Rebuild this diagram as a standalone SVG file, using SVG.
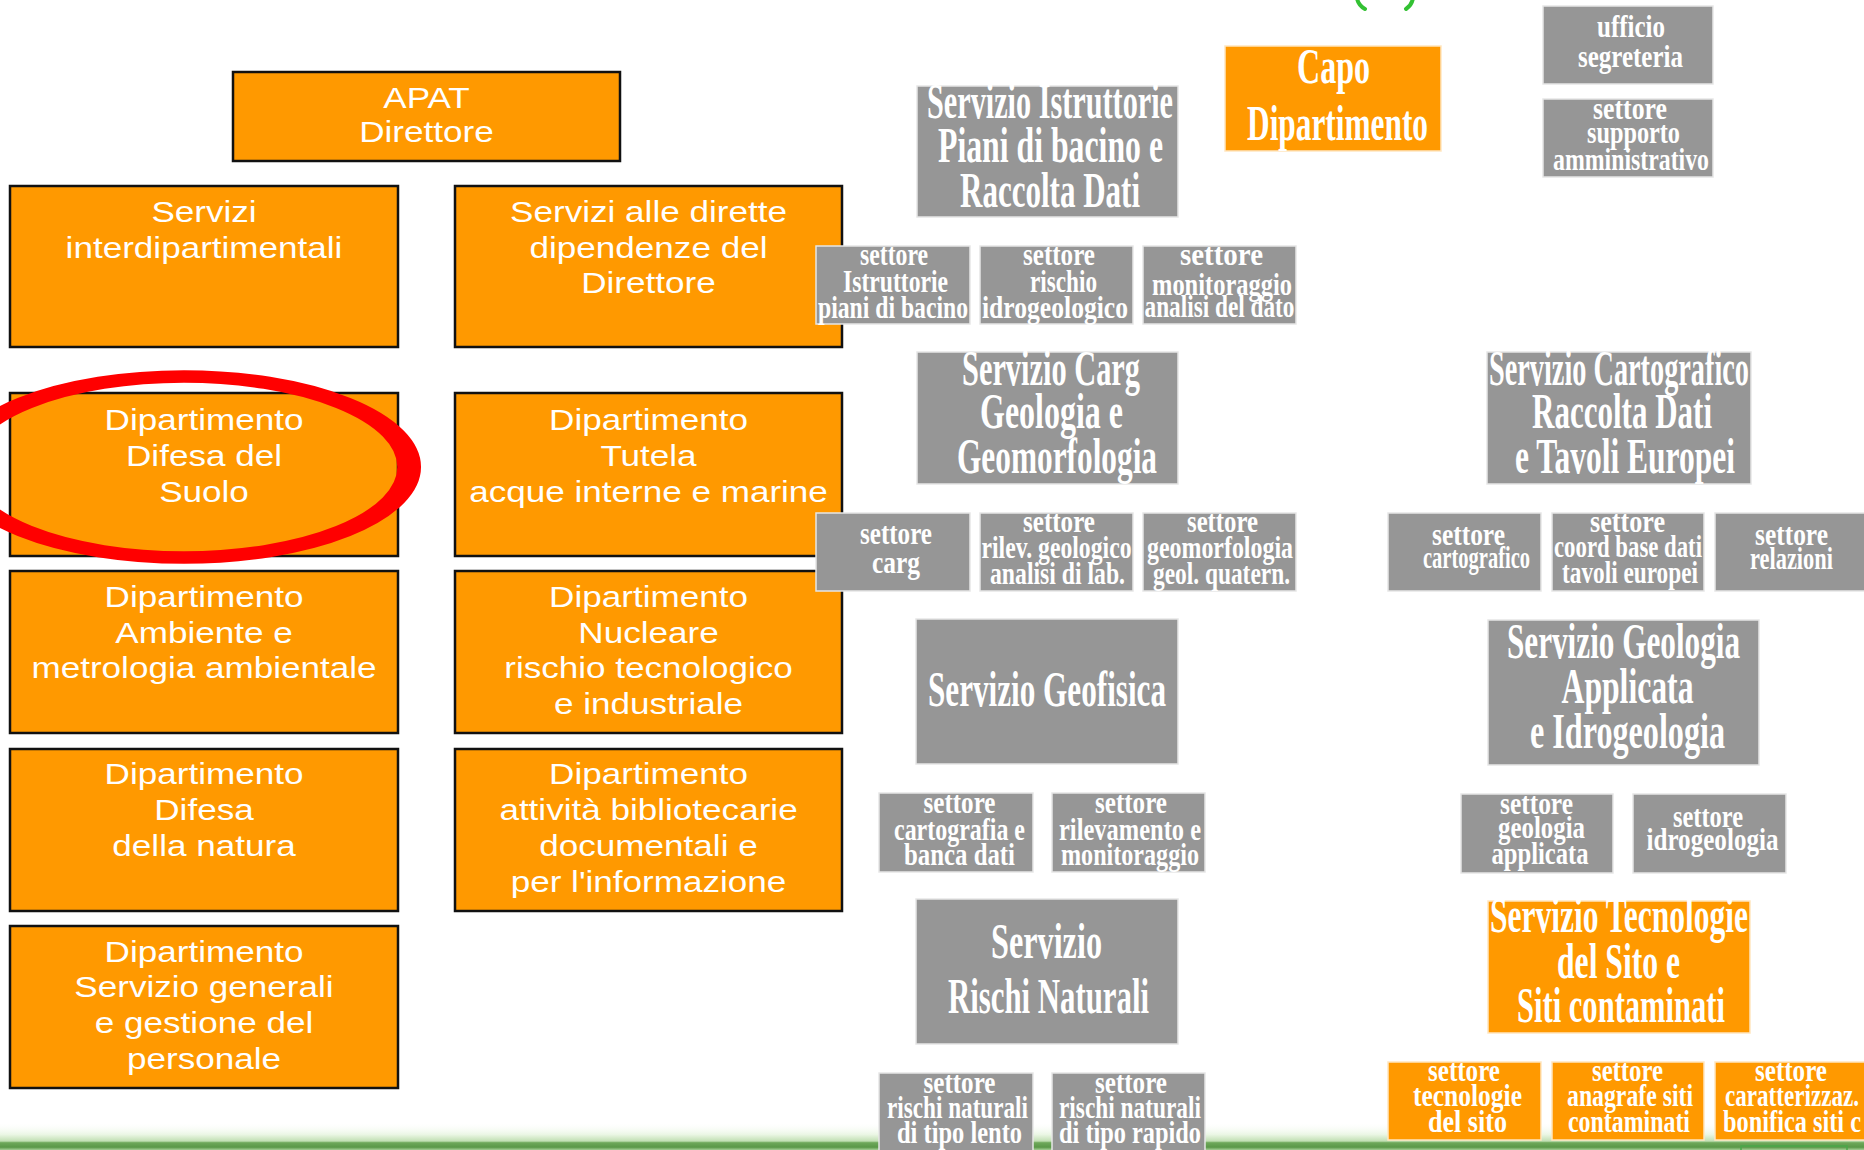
<svg xmlns="http://www.w3.org/2000/svg" width="1864" height="1150" viewBox="0 0 1864 1150">
  <defs>
    <linearGradient id="groundBand" x1="0" y1="0" x2="0" y2="1">
      <stop offset="0" stop-color="#ffffff" stop-opacity="0"/>
      <stop offset="0.45" stop-color="#eaf6e4"/>
      <stop offset="0.68" stop-color="#c2e0b4"/>
      <stop offset="0.74" stop-color="#6ea85a"/>
      <stop offset="0.9" stop-color="#5a9848"/>
      <stop offset="1" stop-color="#a6cf96"/>
    </linearGradient>
  </defs>
  <style>
    .dept { fill: #FF9900; stroke: #111111; stroke-width: 2.5; }
    .lbl { font-family: "Liberation Sans", Arial, sans-serif; font-size: 29px; fill: #ffffff; text-anchor: middle; }
    .svc { fill: #969696; stroke: #e6e6e6; stroke-width: 1.5; }
    .svc-o { fill: #FF9900; stroke: #ffe6c0; stroke-width: 1.5; }
    .big, .small { font-family: "Liberation Serif", "Times New Roman", serif; font-weight: bold; fill: #ffffff; text-anchor: middle; }
    .big { font-size: 50px; }
    .small { font-size: 32px; }
    .capo { font-size: 51px; }
  </style>

  <rect width="1864" height="1150" fill="#ffffff"/>

  <!-- footer band -->
  <g id="footer">
    <rect x="0" y="1122" width="1864" height="28" fill="url(#groundBand)"/>
    <rect x="1741" y="1146" width="106" height="8" fill="none" stroke="#4aa84a" stroke-width="1.5"/>
  </g>

  <!-- green marks at top edge -->
  <g id="top-mark" fill="none" stroke="#33c133" stroke-width="4" stroke-linecap="round">
    <path d="M1357,-2 Q1358,5 1365,9"/>
    <path d="M1413,-2 Q1412,5 1406,9"/>
  </g>

  <g id="connectors"/>

  <!-- ===== agency structure (left) ===== -->
  <g id="n-apat">
    <rect class="dept" x="233" y="72" width="387" height="89"/>
    <g transform="translate(426.5 0) scale(1.21 1)">
      <text class="lbl" y="108">APAT</text>
      <text class="lbl" y="142">Direttore</text>
    </g>
  </g>

  <g id="n-interdip">
    <rect class="dept" x="10" y="186" width="388" height="161"/>
    <g transform="translate(204 0) scale(1.21 1)">
      <text class="lbl" y="222">Servizi</text>
      <text class="lbl" y="258">interdipartimentali</text>
    </g>
  </g>

  <g id="n-dirette">
    <rect class="dept" x="455" y="186" width="387" height="161"/>
    <g transform="translate(648.5 0) scale(1.21 1)">
      <text class="lbl" y="222">Servizi alle dirette</text>
      <text class="lbl" y="258">dipendenze del</text>
      <text class="lbl" y="293">Direttore</text>
    </g>
  </g>

  <g id="n-suolo">
    <rect class="dept" x="10" y="393" width="388" height="163"/>
    <g transform="translate(204 0) scale(1.21 1)">
      <text class="lbl" y="430">Dipartimento</text>
      <text class="lbl" y="466">Difesa del</text>
      <text class="lbl" y="502">Suolo</text>
    </g>
  </g>

  <g id="n-tutela">
    <rect class="dept" x="455" y="393" width="387" height="163"/>
    <g transform="translate(648.5 0) scale(1.21 1)">
      <text class="lbl" y="430">Dipartimento</text>
      <text class="lbl" y="466">Tutela</text>
      <text class="lbl" y="502">acque interne e marine</text>
    </g>
  </g>

  <g id="n-ambiente">
    <rect class="dept" x="10" y="571" width="388" height="162"/>
    <g transform="translate(204 0) scale(1.21 1)">
      <text class="lbl" y="607">Dipartimento</text>
      <text class="lbl" y="643">Ambiente e</text>
      <text class="lbl" y="678">metrologia ambientale</text>
    </g>
  </g>

  <g id="n-nucleare">
    <rect class="dept" x="455" y="571" width="387" height="162"/>
    <g transform="translate(648.5 0) scale(1.21 1)">
      <text class="lbl" y="607">Dipartimento</text>
      <text class="lbl" y="643">Nucleare</text>
      <text class="lbl" y="678">rischio tecnologico</text>
      <text class="lbl" y="714">e industriale</text>
    </g>
  </g>

  <g id="n-natura">
    <rect class="dept" x="10" y="749" width="388" height="162"/>
    <g transform="translate(204 0) scale(1.21 1)">
      <text class="lbl" y="784">Dipartimento</text>
      <text class="lbl" y="820">Difesa</text>
      <text class="lbl" y="856">della natura</text>
    </g>
  </g>

  <g id="n-biblio">
    <rect class="dept" x="455" y="749" width="387" height="162"/>
    <g transform="translate(648.5 0) scale(1.21 1)">
      <text class="lbl" y="784">Dipartimento</text>
      <text class="lbl" y="820">attività bibliotecarie</text>
      <text class="lbl" y="856">documentali e</text>
      <text class="lbl" y="892">per l'informazione</text>
    </g>
  </g>

  <g id="n-generali">
    <rect class="dept" x="10" y="926" width="388" height="162"/>
    <g transform="translate(204 0) scale(1.21 1)">
      <text class="lbl" y="962">Dipartimento</text>
      <text class="lbl" y="997">Servizio generali</text>
      <text class="lbl" y="1033">e gestione del</text>
      <text class="lbl" y="1069">personale</text>
    </g>
  </g>

  <!-- ===== department structure (right) ===== -->
  <g id="n-capo">
    <rect class="svc-o" x="1225" y="46" width="216" height="105"/>
    <text class="big capo" x="1333.5" y="83" textLength="73" lengthAdjust="spacingAndGlyphs">Capo</text>
    <text class="big capo" x="1337.5" y="140" textLength="181" lengthAdjust="spacingAndGlyphs">Dipartimento</text>
  </g>

  <g id="n-segreteria">
    <rect class="svc" x="1543" y="6" width="170" height="78"/>
    <text class="small" x="1631" y="37" textLength="68" lengthAdjust="spacingAndGlyphs">ufficio</text>
    <text class="small" x="1630.5" y="67" textLength="105" lengthAdjust="spacingAndGlyphs">segreteria</text>
  </g>

  <g id="n-supporto">
    <rect class="svc" x="1543" y="99" width="170" height="78"/>
    <text class="small" x="1630" y="119" textLength="74" lengthAdjust="spacingAndGlyphs">settore</text>
    <text class="small" x="1633.5" y="143" textLength="93" lengthAdjust="spacingAndGlyphs">supporto</text>
    <text class="small" x="1631" y="170" textLength="156" lengthAdjust="spacingAndGlyphs">amministrativo</text>
  </g>

  <g id="n-istruttorie">
    <rect class="svc" x="917" y="86" width="261" height="131"/>
    <text class="big" x="1050" y="118" textLength="246" lengthAdjust="spacingAndGlyphs">Servizio Istruttorie</text>
    <text class="big" x="1050.5" y="162" textLength="225" lengthAdjust="spacingAndGlyphs">Piani di bacino e</text>
    <text class="big" x="1050" y="207" textLength="180" lengthAdjust="spacingAndGlyphs">Raccolta Dati</text>
  </g>

  <g id="n-s-istruttorie">
    <rect class="svc" x="816" y="246" width="154" height="78"/>
    <text class="small" x="894" y="265" textLength="68" lengthAdjust="spacingAndGlyphs">settore</text>
    <text class="small" x="895.5" y="292" textLength="105" lengthAdjust="spacingAndGlyphs">Istruttorie</text>
    <text class="small" x="893" y="318" textLength="150" lengthAdjust="spacingAndGlyphs">piani di bacino</text>
  </g>

  <g id="n-s-rischio">
    <rect class="svc" x="980" y="246" width="153" height="78"/>
    <text class="small" x="1059" y="265" textLength="72" lengthAdjust="spacingAndGlyphs">settore</text>
    <text class="small" x="1063.5" y="292" textLength="67" lengthAdjust="spacingAndGlyphs">rischio</text>
    <text class="small" x="1055" y="318" textLength="146" lengthAdjust="spacingAndGlyphs">idrogeologico</text>
  </g>

  <g id="n-s-monitoraggio">
    <rect class="svc" x="1143" y="246" width="153" height="78"/>
    <text class="small" x="1221.5" y="265" textLength="83" lengthAdjust="spacingAndGlyphs">settore</text>
    <text class="small" x="1222" y="295" textLength="140" lengthAdjust="spacingAndGlyphs">monitoraggio</text>
    <text class="small" x="1219.5" y="317" textLength="150" lengthAdjust="spacingAndGlyphs">analisi del dato</text>
  </g>

  <g id="n-carg">
    <rect class="svc" x="917" y="352" width="261" height="132"/>
    <text class="big" x="1051" y="385" textLength="178" lengthAdjust="spacingAndGlyphs">Servizio Carg</text>
    <text class="big" x="1051.5" y="428" textLength="143" lengthAdjust="spacingAndGlyphs">Geologia e</text>
    <text class="big" x="1057" y="473" textLength="200" lengthAdjust="spacingAndGlyphs">Geomorfologia</text>
  </g>

  <g id="n-s-carg">
    <rect class="svc" x="816" y="513" width="154" height="78"/>
    <text class="small" x="896" y="544" textLength="72" lengthAdjust="spacingAndGlyphs">settore</text>
    <text class="small" x="896" y="573" textLength="48" lengthAdjust="spacingAndGlyphs">carg</text>
  </g>

  <g id="n-s-rilev">
    <rect class="svc" x="980" y="513" width="153" height="78"/>
    <text class="small" x="1059" y="532" textLength="72" lengthAdjust="spacingAndGlyphs">settore</text>
    <text class="small" x="1056.5" y="558" textLength="150" lengthAdjust="spacingAndGlyphs">rilev. geologico</text>
    <text class="small" x="1057.5" y="584" textLength="135" lengthAdjust="spacingAndGlyphs">analisi di lab.</text>
  </g>

  <g id="n-s-geomorf">
    <rect class="svc" x="1143" y="513" width="153" height="78"/>
    <text class="small" x="1222.5" y="532" textLength="71" lengthAdjust="spacingAndGlyphs">settore</text>
    <text class="small" x="1220" y="558" textLength="146" lengthAdjust="spacingAndGlyphs">geomorfologia</text>
    <text class="small" x="1221.5" y="584" textLength="137" lengthAdjust="spacingAndGlyphs">geol. quatern.</text>
  </g>

  <g id="n-geofisica">
    <rect class="svc" x="916" y="619" width="262" height="145"/>
    <text class="big" x="1047" y="706" textLength="238" lengthAdjust="spacingAndGlyphs">Servizio Geofisica</text>
  </g>

  <g id="n-s-cartografia">
    <rect class="svc" x="879" y="793" width="154" height="79"/>
    <text class="small" x="959.5" y="813" textLength="72" lengthAdjust="spacingAndGlyphs">settore</text>
    <text class="small" x="959.5" y="840" textLength="131" lengthAdjust="spacingAndGlyphs">cartografia e</text>
    <text class="small" x="959.5" y="865" textLength="111" lengthAdjust="spacingAndGlyphs">banca dati</text>
  </g>

  <g id="n-s-rilevamento">
    <rect class="svc" x="1052" y="793" width="153" height="79"/>
    <text class="small" x="1131" y="813" textLength="72" lengthAdjust="spacingAndGlyphs">settore</text>
    <text class="small" x="1130" y="840" textLength="142" lengthAdjust="spacingAndGlyphs">rilevamento e</text>
    <text class="small" x="1130" y="865" textLength="138" lengthAdjust="spacingAndGlyphs">monitoraggio</text>
  </g>

  <g id="n-rischi">
    <rect class="svc" x="916" y="899" width="262" height="145"/>
    <text class="big" x="1046.5" y="958" textLength="111" lengthAdjust="spacingAndGlyphs">Servizio</text>
    <text class="big" x="1048.5" y="1013" textLength="201" lengthAdjust="spacingAndGlyphs">Rischi Naturali</text>
  </g>

  <g id="n-s-lento">
    <rect class="svc" x="879" y="1073" width="154" height="82"/>
    <text class="small" x="959.5" y="1093" textLength="72" lengthAdjust="spacingAndGlyphs">settore</text>
    <text class="small" x="957.5" y="1118" textLength="141" lengthAdjust="spacingAndGlyphs">rischi naturali</text>
    <text class="small" x="959.5" y="1143" textLength="125" lengthAdjust="spacingAndGlyphs">di tipo lento</text>
  </g>

  <g id="n-s-rapido">
    <rect class="svc" x="1052" y="1073" width="153" height="82"/>
    <text class="small" x="1131" y="1093" textLength="72" lengthAdjust="spacingAndGlyphs">settore</text>
    <text class="small" x="1130" y="1118" textLength="142" lengthAdjust="spacingAndGlyphs">rischi naturali</text>
    <text class="small" x="1130" y="1143" textLength="142" lengthAdjust="spacingAndGlyphs">di tipo rapido</text>
  </g>

  <g id="n-cartografico">
    <rect class="svc" x="1487" y="352" width="264" height="132"/>
    <text class="big" x="1619" y="385" textLength="260" lengthAdjust="spacingAndGlyphs">Servizio Cartografico</text>
    <text class="big" x="1622" y="428" textLength="180" lengthAdjust="spacingAndGlyphs">Raccolta Dati</text>
    <text class="big" x="1625" y="473" textLength="220" lengthAdjust="spacingAndGlyphs">e Tavoli Europei</text>
  </g>

  <g id="n-s-cartografico">
    <rect class="svc" x="1388" y="513" width="153" height="78"/>
    <text class="small" x="1468.5" y="545" textLength="73" lengthAdjust="spacingAndGlyphs">settore</text>
    <text class="small" x="1476.5" y="568" textLength="107" lengthAdjust="spacingAndGlyphs">cartografico</text>
  </g>

  <g id="n-s-coord">
    <rect class="svc" x="1552" y="513" width="152" height="78"/>
    <text class="small" x="1627.5" y="532" textLength="75" lengthAdjust="spacingAndGlyphs">settore</text>
    <text class="small" x="1628" y="557" textLength="148" lengthAdjust="spacingAndGlyphs">coord base dati</text>
    <text class="small" x="1630" y="583" textLength="136" lengthAdjust="spacingAndGlyphs">tavoli europei</text>
  </g>

  <g id="n-s-relazioni">
    <rect class="svc" x="1715" y="513" width="160" height="78"/>
    <text class="small" x="1791.5" y="545" textLength="73" lengthAdjust="spacingAndGlyphs">settore</text>
    <text class="small" x="1791.5" y="569" textLength="83" lengthAdjust="spacingAndGlyphs">relazioni</text>
  </g>

  <g id="n-geologia">
    <rect class="svc" x="1488" y="620" width="271" height="145"/>
    <text class="big" x="1623.5" y="658" textLength="233" lengthAdjust="spacingAndGlyphs">Servizio Geologia</text>
    <text class="big" x="1627.5" y="703" textLength="132" lengthAdjust="spacingAndGlyphs">Applicata</text>
    <text class="big" x="1627.5" y="748" textLength="195" lengthAdjust="spacingAndGlyphs">e Idrogeologia</text>
  </g>

  <g id="n-s-geoapplicata">
    <rect class="svc" x="1461" y="794" width="152" height="79"/>
    <text class="small" x="1536.5" y="814" textLength="73" lengthAdjust="spacingAndGlyphs">settore</text>
    <text class="small" x="1541.5" y="838" textLength="87" lengthAdjust="spacingAndGlyphs">geologia</text>
    <text class="small" x="1540" y="864" textLength="97" lengthAdjust="spacingAndGlyphs">applicata</text>
  </g>

  <g id="n-s-idro">
    <rect class="svc" x="1633" y="794" width="153" height="79"/>
    <text class="small" x="1708" y="827" textLength="70" lengthAdjust="spacingAndGlyphs">settore</text>
    <text class="small" x="1712.5" y="850" textLength="132" lengthAdjust="spacingAndGlyphs">idrogeologia</text>
  </g>

  <g id="n-tecnologie">
    <rect class="svc-o" x="1488" y="901" width="262" height="132"/>
    <text class="big" x="1619" y="932" textLength="258" lengthAdjust="spacingAndGlyphs">Servizio Tecnologie</text>
    <text class="big" x="1618.5" y="978" textLength="123" lengthAdjust="spacingAndGlyphs">del Sito e</text>
    <text class="big" x="1621" y="1022" textLength="208" lengthAdjust="spacingAndGlyphs">Siti contaminati</text>
  </g>

  <g id="n-s-tecsito">
    <rect class="svc-o" x="1388" y="1062" width="153" height="78"/>
    <text class="small" x="1464" y="1081" textLength="72" lengthAdjust="spacingAndGlyphs">settore</text>
    <text class="small" x="1467.5" y="1106" textLength="109" lengthAdjust="spacingAndGlyphs">tecnologie</text>
    <text class="small" x="1467.5" y="1132" textLength="79" lengthAdjust="spacingAndGlyphs">del sito</text>
  </g>

  <g id="n-s-anagrafe">
    <rect class="svc-o" x="1552" y="1062" width="152" height="78"/>
    <text class="small" x="1627.5" y="1081" textLength="71" lengthAdjust="spacingAndGlyphs">settore</text>
    <text class="small" x="1630" y="1106" textLength="126" lengthAdjust="spacingAndGlyphs">anagrafe siti</text>
    <text class="small" x="1629" y="1132" textLength="122" lengthAdjust="spacingAndGlyphs">contaminati</text>
  </g>

  <g id="n-s-bonifica">
    <rect class="svc-o" x="1715" y="1062" width="160" height="78"/>
    <text class="small" x="1791" y="1081" textLength="72" lengthAdjust="spacingAndGlyphs">settore</text>
    <text class="small" x="1792" y="1106" textLength="134" lengthAdjust="spacingAndGlyphs">caratterizzaz.</text>
    <text class="small" x="1792" y="1132" textLength="138" lengthAdjust="spacingAndGlyphs">bonifica siti c</text>
  </g>

  <!-- red highlight ring around the soil department -->
  <g id="highlight">
    <ellipse cx="0" cy="0" rx="118.5" ry="90.5" transform="translate(184 467) scale(1.9 1)" fill="none" stroke="#ff0000" stroke-width="12.5"/>
  </g>
</svg>
